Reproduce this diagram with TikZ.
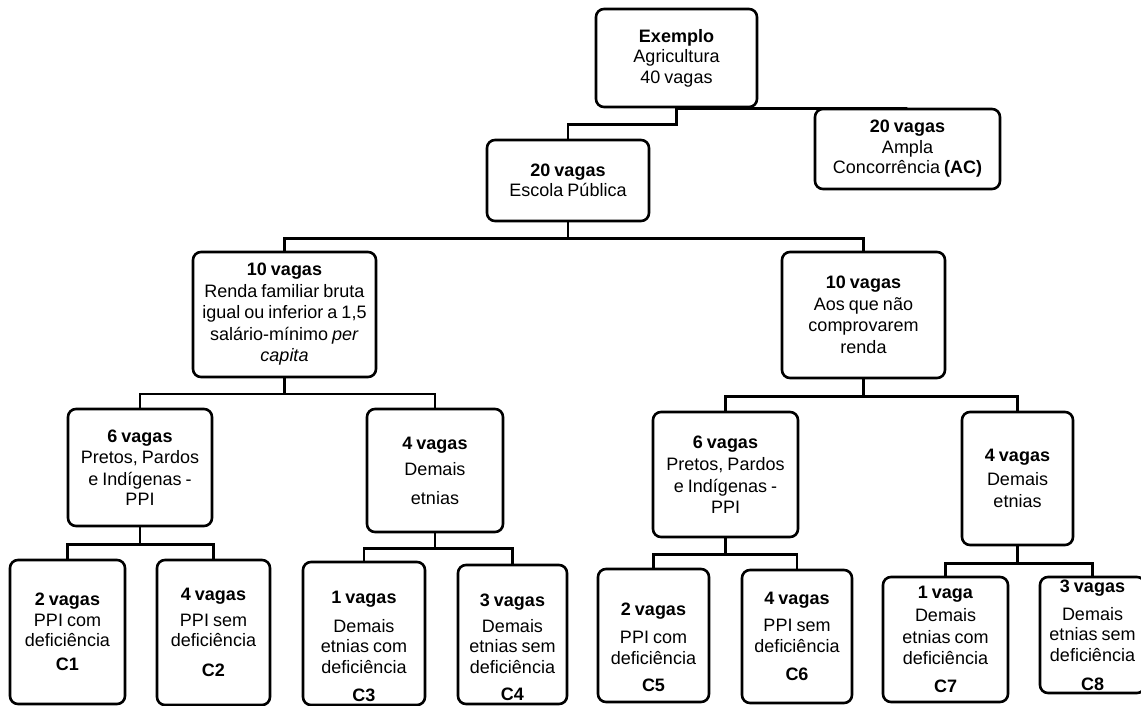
\documentclass[tikz,border=0pt]{standalone}
\usepackage{fontspec}
\setmainfont[WordSpace=0.8]{Liberation Sans}
\usepackage{tikz}

\begin{document}
\begin{tikzpicture}[x=1bp,y=-1bp,
    caixa/.style={
        draw=black,%
        line width=2.6bp,%
        rounded corners=8bp,%
        fill=white,%
        align=center,%
        inner sep=0pt,%
        font=\fontsize{18bp}{20.5bp}\selectfont,%
    },
    liga/.style={line width=2.6bp}]

    \useasboundingbox (0,0) rectangle (1141,706);

    \node[caixa,minimum width=161bp,minimum height=98bp] (exemplo) at (676.5,58)
        {\textbf{Exemplo}\\Agricultura\\40 vagas};
    \node[caixa,minimum width=185bp,minimum height=80bp] (ac) at (907.5,149)
        {\textbf{20 vagas}\\Ampla\\Concorrência \textbf{(AC)}};
    \node[caixa,minimum width=162bp,minimum height=81bp] (escola) at (568,180.5)
        {\textbf{20 vagas}\\Escola Pública};

    \node[caixa,minimum width=183bp,minimum height=125bp] (renda) at (284.5,314.5)
        {\textbf{10 vagas}\\[1bp]Renda familiar bruta\\[1bp]igual ou inferior a 1,5\\[1bp]salário-mínimo \textit{per}\\[1bp]\textit{capita}};
    \node[caixa,minimum width=163bp,minimum height=126bp] (semrenda) at (863.5,315)
        {\textbf{10 vagas}\\[1bp]Aos que não\\[1bp]comprovarem\\[1bp]renda};

    \node[caixa,minimum width=144bp,minimum height=117bp] (ppiA) at (140,467.5)
        {\textbf{6 vagas}\\[1bp]Pretos, Pardos\\[1bp]e Indígenas -\\PPI};
    \node[caixa,minimum width=136bp,minimum height=123bp] (demaisA) at (435,470.5)
        {\textbf{4 vagas}\\[5.5bp]Demais\\[8.5bp]etnias};
    \node[caixa,minimum width=145bp,minimum height=125bp] (ppiB) at (725.5,474.5)
        {\textbf{6 vagas}\\[1bp]Pretos, Pardos\\[2bp]e Indígenas -\\PPI};
    \node[caixa,minimum width=111bp,minimum height=133bp] (demaisB) at (1017.5,478.5)
        {\textbf{4 vagas}\\[3.5bp]Demais\\[1.5bp]etnias};

    \node[caixa,minimum width=115bp,minimum height=144bp] (c1) at (67.5,632)
        {\textbf{2 vagas}\\PPI com\\deficiência\\[3bp]\textbf{C1}};
    \node[caixa,minimum width=113bp,minimum height=145bp] (c2) at (213.5,632.5)
        {\textbf{4 vagas}\\[5.5bp]PPI sem\\deficiência\\[9.5bp]\textbf{C2}};
    \node[caixa,minimum width=122bp,minimum height=143bp] (c3) at (364,633.5)
        {\rule{0pt}{38bp}\textbf{1 vagas}\\[8.5bp]Demais\\etnias com\\deficiência\\[7.5bp]\textbf{C3}};
    \node[caixa,minimum width=109bp,minimum height=139bp] (c4) at (512.5,634.5)
        {\rule{0pt}{38bp}\textbf{3 vagas}\\[5.5bp]Demais\\etnias sem\\deficiência\\[6.5bp]\textbf{C4}};
    \node[caixa,minimum width=111bp,minimum height=133bp] (c5) at (653.5,635.5)
        {\rule{0pt}{36bp}\textbf{2 vagas}\\[7.5bp]PPI com\\deficiência\\[6.5bp]\textbf{C5}};
    \node[caixa,minimum width=110bp,minimum height=133bp] (c6) at (797,636.5)
        {\textbf{4 vagas}\\[6.5bp]PPI sem\\deficiência\\[7.5bp]\textbf{C6}};
    \node[caixa,minimum width=125bp,minimum height=125bp] (c7) at (945.5,639.5)
        {\textbf{1 vaga}\\[2.5bp]Demais\\[1.5bp]etnias com\\deficiência\\[7.5bp]\textbf{C7}};
    \node[caixa,minimum width=105bp,minimum height=116bp] (c8) at (1092.5,635)
        {\textbf{3 vagas}\\[7.5bp]Demais\\etnias sem\\deficiência\\[8.5bp]\textbf{C8}};

    \draw[liga] (exemplo.south) -- ++(0,16) -| (escola.north);
    \draw[liga] (exemplo.south) -| (ac.north);

    \draw[liga] (escola.south) -- ++(0,16) -| (renda.north);
    \draw[liga] (escola.south) -- ++(0,16) -| (semrenda.north);

    \draw[liga] (renda.south) -- ++(0,15.5) -| (ppiA.north);
    \draw[liga] (renda.south) -- ++(0,15.5) -| (demaisA.north);
    \draw[liga] (semrenda.south) -- ++(0,17) -| (ppiB.north);
    \draw[liga] (semrenda.south) -- ++(0,17) -| (demaisB.north);

    \draw[liga] (ppiA.south) -- ++(0,17) -| (c1.north);
    \draw[liga] (ppiA.south) -- ++(0,17) -| (c2.north);
    \draw[liga] (demaisA.south) -- ++(0,15) -| (c3.north);
    \draw[liga] (demaisA.south) -- ++(0,15) -| (c4.north);
    \draw[liga] (ppiB.south) -- ++(0,16) -| (c5.north);
    \draw[liga] (ppiB.south) -- ++(0,16) -| (c6.north);
    \draw[liga] (demaisB.south) -- ++(0,17) -| (c7.north);
    \draw[liga] (demaisB.south) -- ++(0,17) -| (c8.north);
\end{tikzpicture}
\end{document}
